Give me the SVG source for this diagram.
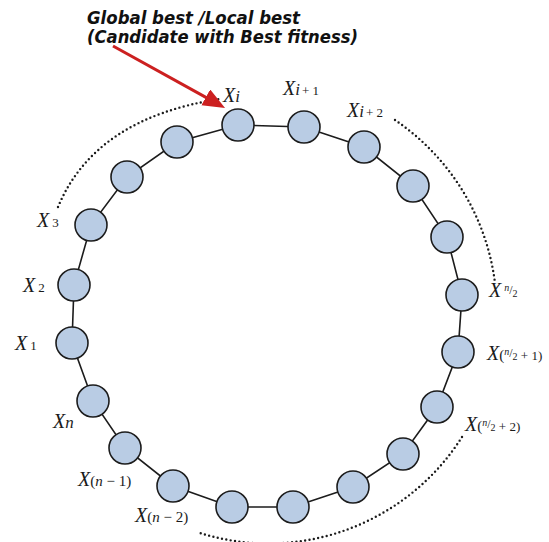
<svg xmlns="http://www.w3.org/2000/svg" width="549" height="542" viewBox="0 0 549 542">
<style>
.node{fill:#b9cce4;stroke:#1c1c1c;stroke-width:1.6}
.ring{fill:none;stroke:#1c1c1c;stroke-width:1.6}
.dots{fill:none;stroke:#1c1c1c;stroke-width:2.4;stroke-linecap:round;stroke-dasharray:0 4.4}
.lx{font-family:"Liberation Serif",serif;font-style:italic;font-size:20px;fill:#1a1a1a}
.it{font-style:italic;font-size:17px}
.sm{font-style:normal;font-size:13px}
.md{font-style:normal;font-size:15px}
.mi{font-style:italic;font-size:15px}
.fn{font-style:italic;font-size:10px}
.fs{font-style:normal;font-size:12px}
.f2{font-style:normal;font-size:10px}
.title{font-family:"DejaVu Sans",sans-serif;font-weight:bold;font-style:italic;font-size:17.5px;fill:#111}
</style>
<defs>
<marker id="ah" markerUnits="userSpaceOnUse" markerWidth="24" markerHeight="20" refX="12" refY="9" orient="auto">
<path d="M0,0 L22,9 L0,18 z" fill="#cc2020"/>
</marker>
</defs>
<rect width="549" height="542" fill="#fff"/>
<g id="connectors">
<polygon class="ring" points="238,125 304,127 364,147 413,186 447,237 462,295 458,352 437,407 403,454 353,487 293,507 232,507 173,486 125,448 93,401 72,343 74,285 91,225 127,177 177,142"/>
<path class="dots" d="M58,207 Q95,118 220,99"/>
<path class="dots" d="M395,120 A232,232 0 0 1 495,283"/>
<path class="dots" d="M462,437 A229,229 0 0 1 200,533"/>
<line x1="113" y1="46" x2="216.3" y2="103.1" stroke="#cc2020" stroke-width="3" marker-end="url(#ah)"/>
</g>
<g id="n1"><circle class="node" cx="238" cy="125" r="16"/></g>
<g id="n2"><circle class="node" cx="304" cy="127" r="16"/></g>
<g id="n3"><circle class="node" cx="364" cy="147" r="16"/></g>
<g id="n4"><circle class="node" cx="413" cy="186" r="16"/></g>
<g id="n5"><circle class="node" cx="447" cy="237" r="16"/></g>
<g id="n6"><circle class="node" cx="462" cy="295" r="16"/></g>
<g id="n7"><circle class="node" cx="458" cy="352" r="16"/></g>
<g id="n8"><circle class="node" cx="437" cy="407" r="16"/></g>
<g id="n9"><circle class="node" cx="403" cy="454" r="16"/></g>
<g id="n10"><circle class="node" cx="353" cy="487" r="16"/></g>
<g id="n11"><circle class="node" cx="293" cy="507" r="16"/></g>
<g id="n12"><circle class="node" cx="232" cy="507" r="16"/></g>
<g id="n13"><circle class="node" cx="173" cy="486" r="16"/></g>
<g id="n14"><circle class="node" cx="125" cy="448" r="16"/></g>
<g id="n15"><circle class="node" cx="93" cy="401" r="16"/></g>
<g id="n16"><circle class="node" cx="72" cy="343" r="16"/></g>
<g id="n17"><circle class="node" cx="74" cy="285" r="16"/></g>
<g id="n18"><circle class="node" cx="91" cy="225" r="16"/></g>
<g id="n19"><circle class="node" cx="127" cy="177" r="16"/></g>
<g id="n20"><circle class="node" cx="177" cy="142" r="16"/></g>
<g id="labels">
<text class="title" x="87" y="24" textLength="213" lengthAdjust="spacingAndGlyphs">Global best /Local best</text>
<text class="title" x="87" y="43" textLength="271" lengthAdjust="spacingAndGlyphs">(Candidate with Best fitness)</text>
<text class="lx" x="223" y="102">X<tspan class="it">i</tspan></text>
<text class="lx" x="283" y="95">X<tspan class="it">i</tspan><tspan class="sm" dx="2">+ 1</tspan></text>
<text class="lx" x="347" y="117">X<tspan class="it">i</tspan><tspan class="sm" dx="2">+ 2</tspan></text>
<text class="lx" x="37" y="227">X<tspan class="sm" dx="3">3</tspan></text>
<text class="lx" x="23" y="292">X<tspan class="sm" dx="3">2</tspan></text>
<text class="lx" x="15" y="350">X<tspan class="sm" dx="3">1</tspan></text>
<text class="lx" x="53" y="428">X<tspan class="it">n</tspan></text>
<text class="lx" x="78" y="486">X<tspan class="md">(</tspan><tspan class="mi">n</tspan><tspan class="md"> − 1)</tspan></text>
<text class="lx" x="135" y="522">X<tspan class="md">(</tspan><tspan class="mi">n</tspan><tspan class="md"> − 2)</tspan></text>
<text class="lx" x="489" y="297">X<tspan class="fn" dx="3" dy="-6">n</tspan><tspan class="fs" dy="3">/</tspan><tspan class="f2" dy="3">2</tspan></text>
<text class="lx" x="487" y="360">X<tspan class="md">(</tspan><tspan class="fn" dy="-5">n</tspan><tspan class="fs" dy="2">/</tspan><tspan class="f2" dy="3">2</tspan><tspan class="sm" dy="0"> + 1)</tspan></text>
<text class="lx" x="465" y="431">X<tspan class="md">(</tspan><tspan class="fn" dy="-5">n</tspan><tspan class="fs" dy="2">/</tspan><tspan class="f2" dy="3">2</tspan><tspan class="sm" dy="0"> + 2)</tspan></text>
</g>
</svg>
